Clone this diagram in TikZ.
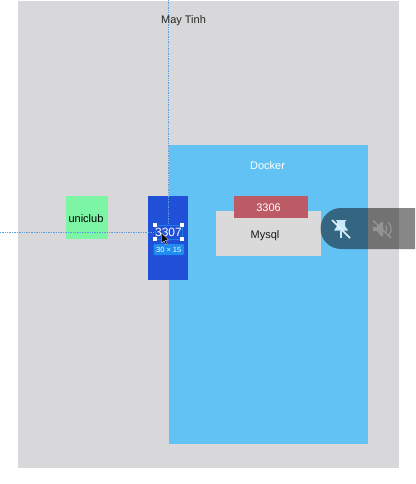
\documentclass[tikz,border=0pt]{standalone}
\usepackage{fontspec}
\setmainfont{Liberation Sans}
\tikzset{
  x=1pt,y=-1pt,
  lab/.style={inner sep=0pt,font=\fontsize{11}{13}\selectfont},
  guide/.style={draw=guideblue,line width=0.7pt,densely dotted},
}
\definecolor{pagegray}{HTML}{D8D8DA}
\definecolor{dockerblue}{HTML}{63C2F4}
\definecolor{portblue}{HTML}{2050D8}
\definecolor{greenbox}{HTML}{7CF5A4}
\definecolor{redbox}{HTML}{BC5A66}
\definecolor{mysqlgray}{HTML}{DADADA}
\definecolor{guideblue}{HTML}{5C9FE0}
\definecolor{selblue}{HTML}{1C7CF0}
\definecolor{badgeblue}{HTML}{1E8CF0}
\begin{document}
\begin{tikzpicture}
\useasboundingbox (0,0) rectangle (415,484);
\fill[white] (0,0) rectangle (415,484);
\fill[pagegray] (18,1) rectangle (399,468);
\fill[dockerblue] (169,145) rectangle (368,444);
\fill[greenbox] (66,196) rectangle (108,239);
\fill[portblue] (148,196) rectangle (188,280);
\fill[mysqlgray] (216,211) rectangle (321,256);
\fill[redbox] (234,196) rectangle (308,218);
% guides
\draw[guide] (168.5,0) -- (168.5,224);
\draw[guide] (0,232.5) -- (154,232.5);
% texts
\node[lab,text=black!85] (maytinh) at (183.5,21) {May Tinh};
\node[lab,text=white] (docker) at (267.5,166) {Docker};
\node[lab,text=black] (uniclub) at (86,218.5) {uniclub};
\node[lab,text=white] (p3306) at (268.5,207.5) {3306};
\node[lab,text=black!90] (mysql) at (265,236) {Mysql};
\node[lab,text=white,font=\fontsize{12}{14}\selectfont] (p3307) at (168.5,232.5) {3307};
% selection
\draw[selblue,line width=0.5pt] (155,225) rectangle (182,239);
\foreach \hx/\hy in {155/225,182/225,155/239,182/239}
  \fill[white] (\hx-2.3,\hy-2.3) rectangle (\hx+2.3,\hy+2.3);
\fill[badgeblue,rounded corners=1.2pt] (153.5,244) rectangle (184,255);
\node[inner sep=0pt,text=white,font=\fontsize{7.5}{9}\selectfont] (badge) at (168.7,249.6) {30 × 15};
% cursor
\fill[black,draw=white,line width=0.3pt] (161.5,233) -- (161.5,243) -- (164,240.8) -- (165.8,244.5) -- (167.2,243.8) -- (165.5,240.3) -- (168.5,240) -- cycle;
% toolbar
\fill[black,opacity=0.47] (415,208) -- (341,208) arc[start angle=270,end angle=90,radius=20.5] -- (415,249) -- cycle;
% pin-off icon
\begin{scope}[shift={(341,229)},color=dockerblue!35!white]
\fill (-5.5,-9) -- (5.5,-9) -- (4,-7.5) -- (4,-3) -- (7,1.5) -- (-7,1.5) -- (-4,-3) -- (-4,-7.5) -- cycle;
\fill (-1,1.5) rectangle (1,9);
\draw[line width=1.5pt,draw=white!80!dockerblue] (-9,-9) -- (9,9);
\end{scope}
% mute icon
\begin{scope}[shift={(382,229)},color=white!58!black]
\fill (-9,-2) -- (-5,-2) -- (-1,-7) -- (1,-7) -- (1,7) -- (-1,7) -- (-5,2) -- (-9,2) -- cycle;
\draw[line width=1.2pt] (3.5,-3.5) arc[start angle=-45,end angle=45,radius=5];
\draw[line width=1.2pt] (6,-7) arc[start angle=-50,end angle=50,radius=9];
\draw[line width=1.5pt] (-9,-8.5) -- (9,9);
\end{scope}
\end{tikzpicture}
\end{document}
